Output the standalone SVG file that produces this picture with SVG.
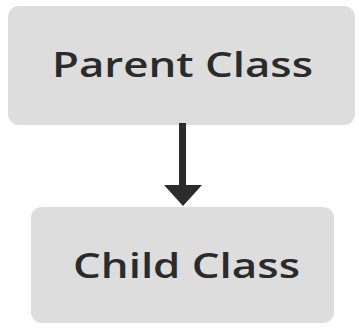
<svg xmlns="http://www.w3.org/2000/svg" width="359" height="333" viewBox="0 0 359 333">
<style>
.box{fill:#dddddd;}
.lbl{font-family:"Open Sans","Noto Sans",sans-serif;font-size:34px;font-weight:600;fill:#2b2b2b;}
</style>
<rect width="359" height="333" fill="#ffffff"/>
<g id="parent">
<rect class="box" x="8" y="6" width="347" height="119" rx="11"/>
<text class="lbl" x="52" y="77" textLength="261" lengthAdjust="spacingAndGlyphs">Parent Class</text>
</g>
<g id="child">
<rect class="box" x="31" y="207" width="303" height="116" rx="11"/>
<text class="lbl" x="73" y="278" textLength="227" lengthAdjust="spacingAndGlyphs">Child Class</text>
</g>
<g id="connectors">
<line x1="182.5" y1="123" x2="182.5" y2="187" stroke="#2b2b2b" stroke-width="7"/>
<polygon points="164,185 202,185 183,206" fill="#2b2b2b"/>
</g>
</svg>
